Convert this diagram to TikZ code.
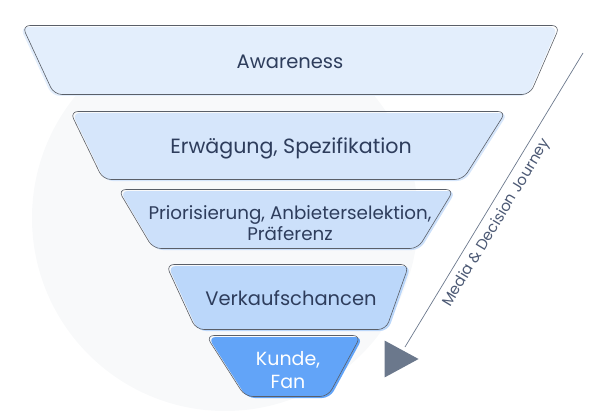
\documentclass[tikz,border=0pt]{standalone}
\usepackage{fontspec}
\setmainfont{Poppins}
\usetikzlibrary{shapes.geometric}
\definecolor{txt}{HTML}{2E3D5C}
\definecolor{bgc}{HTML}{F8F9FA}
\definecolor{fa}{HTML}{E3EEFC}
\definecolor{fb}{HTML}{D6E6FB}
\definecolor{fc}{HTML}{CCE0FA}
\definecolor{fd}{HTML}{BBD7FA}
\definecolor{fe}{HTML}{62A4F8}
\definecolor{outc}{HTML}{5A5F68}
\definecolor{arr}{HTML}{6B788C}
\newcommand\stage[9]{%
  \fill[#8, rounded corners=8pt] (#4,#2) -- (#5,#2) -- (#7,#3) -- (#6,#3) -- cycle;
  \draw[outc, line width=0.6pt, shift={#9}, rounded corners=8pt] (#4,#2) -- (#5,#2) -- (#7,#3) -- (#6,#3) -- cycle;
  \coordinate (#1) at ({(#4+#5+#6+#7)/4},{(#2+#3)/2});
}
\tikzset{
  lbl/.style={text=txt, font=\fontsize{19.5}{22}\selectfont, inner sep=0pt},
  lblsmall/.style={text=txt, font=\fontsize{18.3}{21}\selectfont, inner sep=0pt, align=center},
}
\begin{document}
\begin{tikzpicture}[x=1pt,y=-1pt]
\useasboundingbox (0,0) rectangle (600,420);
\fill[bgc] (225,218) circle (193pt);
\stage{s1}{27}{96}{20}{558}{52}{528}{fa}{(2,-1.5)}
\stage{s2}{113}{181}{72}{508}{105}{465}{fb}{(-2,-1.5)}
\stage{s3}{191}{250}{120}{456}{155}{420}{fc}{(-2,-1.5)}
\stage{s4}{266}{331}{168}{411}{198}{388}{fd}{(-2,-1.5)}
\stage{s5}{337}{398}{208}{363}{247}{330}{fe}{(-2,-1.5)}
\node[lbl] (t1) at (290,62) {Awareness};
\node[lbl, font=\fontsize{20.6}{22}\selectfont] (t2) at (291,148) {Erwägung, Spezifikation};
\node[lblsmall] (t3) at (290,223) {Priorisierung, Anbieterselektion,\\Präferenz};
\node[lbl] (t4) at (291,298) {Verkaufschancen};
\node[lbl, text=white, align=center, font=\fontsize{19}{23}\selectfont] (t5) at (288,370) {Kunde,\\Fan};
\coordinate (js) at (583,53);
\coordinate (je) at (405,347);
\draw[arr, line width=0.7pt] (js) -- (je);
\node[isosceles triangle, isosceles triangle apex angle=57, fill=arr, inner sep=0pt, minimum height=34pt, anchor=apex] (tip) at (419,359) {};
\node[text=txt!85, font=\fontsize{15}{17}\selectfont, rotate=58.8, inner sep=0pt] (jl) at (497,223) {Media \& Decision Journey};
\end{tikzpicture}
\end{document}
